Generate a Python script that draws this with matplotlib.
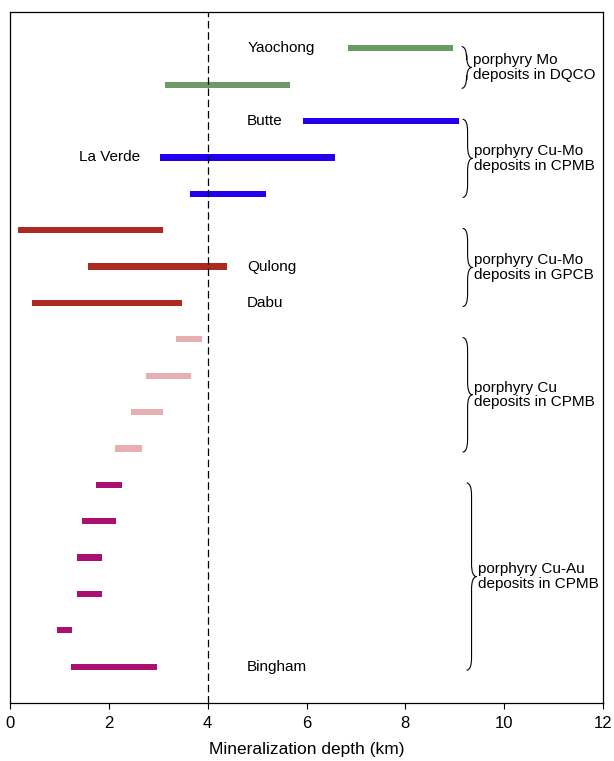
import numpy as np
import matplotlib
matplotlib.use("Agg")
from matplotlib import pyplot as plt
from matplotlib.path import Path
import matplotlib.patches as mpatches

plt.rcParams['font.family'] = ['Liberation Sans', 'DejaVu Sans']

# depth ranges (km), top to bottom
starts = [6.84, 3.14, 5.93, 3.04, 3.64, 0.16, 1.58, 0.45, 3.36, 2.75, 2.45, 2.13,
          1.74, 1.46, 1.36, 1.36, 0.95, 1.23]
ends = [8.97, 5.67, 9.09, 6.58, 5.18, 3.10, 4.39, 3.48, 3.89, 3.66, 3.10, 2.67,
        2.27, 2.15, 1.86, 1.86, 1.26, 2.98]
groups = [0, 0, 1, 1, 1, 2, 2, 2, 3, 3, 3, 3, 4, 4, 4, 4, 4, 4]

group_colors = ['#6b9a66', '#2200ee', '#ad2a22', '#e8afb3', '#ad0f70']
group_labels = ['porphyry Mo\ndeposits in DQCO',
                'porphyry Cu-Mo\ndeposits in CPMB',
                'porphyry Cu-Mo\ndeposits in GPCB',
                'porphyry Cu\ndeposits in CPMB',
                'porphyry Cu-Au\ndeposits in CPMB']
brace_x = [9.24, 9.26, 9.26, 9.26, 9.34]

# named deposits: row index, text
names = {0: 'Yaochong', 2: 'Butte', 3: 'La Verde', 6: 'Qulong', 7: 'Dabu', 17: 'Bingham'}

rows = np.arange(1, len(starts) + 1)

fig = plt.figure(figsize=(6.14, 7.61), dpi=100)
ax = fig.add_axes([10 / 614, 58 / 761, 593 / 614, 691 / 761])

colors = [group_colors[g] for g in groups]
widths = np.array(ends) - np.array(starts)
ax.barh(rows, widths, left=starts, height=0.17, color=colors)

ax.axvline(4, color='black', lw=0.9, ls=(0, (6, 3)))

for i, txt in names.items():
    if txt == 'La Verde':
        ax.text(2.63, rows[i], txt, ha='right', va='center', fontsize=11)
    else:
        ax.text(4.8, rows[i], txt, ha='left', va='center', fontsize=11)


def brace(x, y0, y1, a=0.1, r=0.35):
    ym = (y0 + y1) / 2
    verts = [(x - a, y0), (x, y0), (x, y0 + r), (x, ym - r), (x, ym), (x + a, ym),
             (x, ym), (x, ym + r), (x, y1 - r), (x, y1), (x - a, y1)]
    codes = [Path.MOVETO, Path.CURVE3, Path.CURVE3, Path.LINETO, Path.CURVE3, Path.CURVE3,
             Path.CURVE3, Path.CURVE3, Path.LINETO, Path.CURVE3, Path.CURVE3]
    ax.add_patch(mpatches.PathPatch(Path(verts, codes), fill=False, lw=0.8, color='black'))
    return ym


for g in range(len(group_labels)):
    rr = rows[np.array(groups) == g]
    ym = brace(brace_x[g], rr.min() - 0.05, rr.max() + 0.1)
    ax.text(brace_x[g] + 0.13, ym, group_labels[g], ha='left', va='center',
            fontsize=11, linespacing=1.05)

ax.set_xlim(0, 12)
ax.set_ylim(19, 0)
ax.set_xticks([0, 2, 4, 6, 8, 10, 12])
ax.set_yticks([])
ax.tick_params(axis='x', labelsize=12, direction='out', length=4, pad=5)
ax.set_xlabel('Mineralization depth (km)', fontsize=12.5, labelpad=8)
for s in ax.spines.values():
    s.set_linewidth(0.9)

fig.savefig('out.png', dpi=100)
